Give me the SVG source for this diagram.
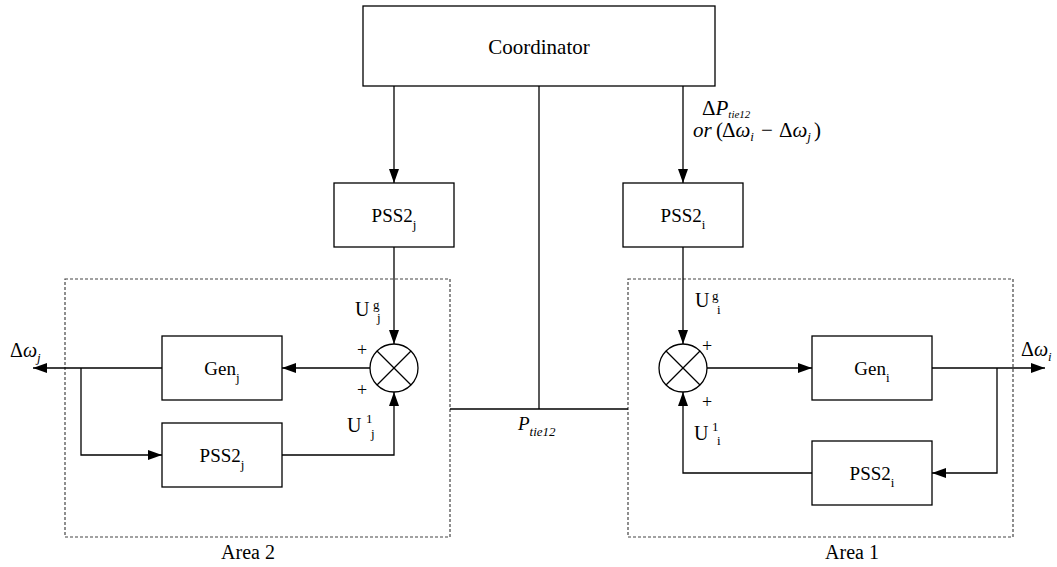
<svg xmlns="http://www.w3.org/2000/svg" width="1057" height="567" viewBox="0 0 1057 567">
<style>
.box{fill:#fff;stroke:#000;stroke-width:1.3}
.area{fill:none;stroke:#444;stroke-width:1.2;stroke-dasharray:3,2}
.ln{fill:none;stroke:#000;stroke-width:1.3}
.ar{marker-end:url(#ah)}
text{font-family:'Liberation Serif','Times New Roman',serif;font-size:19px}
.lb{text-anchor:middle}
.sb{font-size:13px}
.it{font-style:italic}
.fm{font-size:21px}
</style>
<defs>
<marker id="ah" viewBox="0 0 14 10" refX="14" refY="5" markerWidth="14" markerHeight="10" markerUnits="userSpaceOnUse" orient="auto">
<path d="M0,0 L14,5 L0,10 z" fill="#000"/>
</marker>
</defs>

<g id="area2"><rect class="area" x="65" y="279" width="385" height="258"/><text class="lb" x="248" y="559" style="font-size:20px">Area 2</text></g>
<g id="area1"><rect class="area" x="628" y="279" width="385" height="258"/><text class="lb" x="852" y="559" style="font-size:20px">Area 1</text></g>

<g id="connectors">
<line class="ln ar" x1="394" y1="86" x2="394" y2="183"/>
<line class="ln ar" x1="683" y1="86" x2="683" y2="183"/>
<line class="ln" x1="539" y1="86" x2="539" y2="409"/>
<line class="ln" x1="450" y1="409" x2="628" y2="409"/>
<line class="ln ar" x1="394" y1="247" x2="394" y2="344"/>
<line class="ln ar" x1="683" y1="247" x2="683" y2="344"/>
<line class="ln ar" x1="370" y1="368" x2="282" y2="368"/>
<line class="ln ar" x1="162" y1="368" x2="33" y2="368"/>
<polyline class="ln ar" points="81,368 81,455 162,455"/>
<polyline class="ln ar" points="282,455 394,455 394,392"/>
<line class="ln ar" x1="707" y1="368" x2="812" y2="368"/>
<line class="ln ar" x1="932" y1="368" x2="1045" y2="368"/>
<polyline class="ln ar" points="997,368 997,473 932,473"/>
<polyline class="ln ar" points="812,473 683,473 683,392"/>
</g>

<g id="coordinator"><rect class="box" x="363" y="6" width="352" height="80"/><text class="lb" x="539" y="54" style="font-size:21px">Coordinator</text></g>

<g id="pss2j_top"><rect class="box" x="334" y="183" width="120" height="64"/><text class="lb" x="394" y="222">PSS2<tspan class="sb" dy="7">j</tspan></text></g>
<g id="pss2i_top"><rect class="box" x="623" y="183" width="120" height="64"/><text class="lb" x="683" y="222">PSS2<tspan class="sb" dy="7">i</tspan></text></g>

<g id="genj"><rect class="box" x="162" y="336" width="120" height="64"/><text class="lb" x="222" y="375">Gen<tspan class="sb" dy="7">j</tspan></text></g>
<g id="geni"><rect class="box" x="812" y="336" width="120" height="64"/><text class="lb" x="872" y="375">Gen<tspan class="sb" dy="7">i</tspan></text></g>

<g id="pss2j_bot"><rect class="box" x="162" y="423" width="120" height="64"/><text class="lb" x="222" y="462">PSS2<tspan class="sb" dy="7">j</tspan></text></g>
<g id="pss2i_bot"><rect class="box" x="812" y="441" width="120" height="64"/><text class="lb" x="872" y="480">PSS2<tspan class="sb" dy="7">i</tspan></text></g>

<g id="sumj">
<circle cx="394" cy="368" r="24" fill="#fff" stroke="#000" stroke-width="1.3"/>
<line class="ln" x1="377" y1="351" x2="411" y2="385"/><line class="ln" x1="411" y1="351" x2="377" y2="385"/>
<text x="357" y="356" style="font-size:18px">+</text>
<text x="357" y="396" style="font-size:18px">+</text>
</g>
<g id="sumi">
<circle cx="683" cy="368" r="24" fill="#fff" stroke="#000" stroke-width="1.3"/>
<line class="ln" x1="666" y1="351" x2="700" y2="385"/><line class="ln" x1="700" y1="351" x2="666" y2="385"/>
<text x="702" y="352" style="font-size:18px">+</text>
<text x="702" y="408" style="font-size:18px">+</text>
</g>

<g id="labels">
<text x="355" y="316" style="font-size:20px">U</text><text class="sb" x="373" y="309">g</text><text class="sb" x="377" y="322">j</text>
<text x="695" y="307" style="font-size:20px">U</text><text class="sb" x="712" y="300">g</text><text class="sb" x="717" y="314">i</text>
<text x="347" y="432" style="font-size:20px">U</text><text class="sb" x="366" y="423">1</text><text class="sb" x="371" y="438">j</text>
<text x="694" y="440" style="font-size:20px">U</text><text class="sb" x="712" y="431">1</text><text class="sb" x="717" y="445">i</text>
<text x="10" y="357" style="font-size:20px">Δ<tspan class="it">ω</tspan><tspan class="sb it" dy="5">j</tspan></text>
<text x="1021" y="356" style="font-size:20px">Δ<tspan class="it">ω</tspan><tspan class="sb it" dy="5">i</tspan></text>
<text x="702" y="115" class="fm">Δ<tspan class="it">P</tspan><tspan class="it" style="font-size:11px" dy="3">tie12</tspan></text>
<text x="693" y="137" class="fm"><tspan class="it">or</tspan><tspan x="716">(</tspan><tspan x="722">Δ</tspan><tspan class="it">ω</tspan><tspan class="sb it" dy="4">i</tspan><tspan x="761" dy="-4">−</tspan><tspan x="779">Δ</tspan><tspan class="it">ω</tspan><tspan class="sb it" dy="4">j</tspan><tspan x="814" dy="-4">)</tspan></text>
<text x="518" y="430" class="it">P<tspan style="font-size:13px" dy="6">tie12</tspan></text>
</g>
</svg>
